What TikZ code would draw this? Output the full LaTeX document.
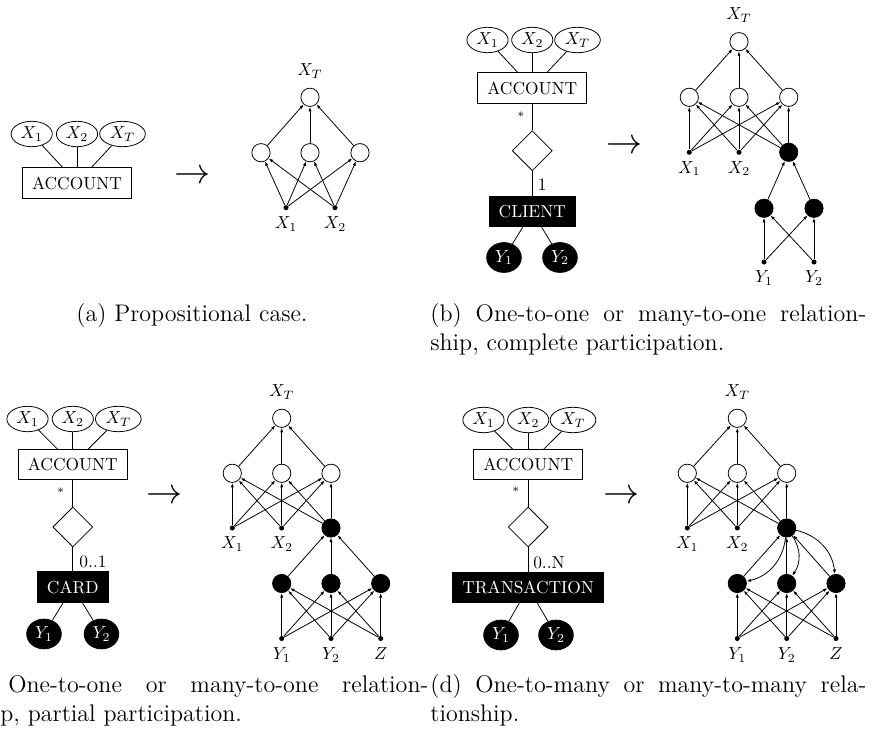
\documentclass[tikz,border=0pt]{standalone}
\usetikzlibrary{shapes.geometric,arrows.meta}
\begin{document}
\begin{tikzpicture}[x=0.575pt,y=-0.575pt,line width=0.45pt,
  attr/.style={draw,ellipse,inner xsep=2pt,inner ysep=1pt},
  battr/.style={draw,fill=black,text=white,ellipse,inner sep=1.9pt},
  ent/.style={draw,rectangle,inner xsep=5.5pt,inner ysep=5pt},
  bent/.style={ent,fill=black,text=white},
  rel/.style={draw,diamond,minimum size=23pt,inner sep=0pt},
  wnode/.style={draw,circle,minimum size=10.5pt,inner sep=0pt},
  bnode/.style={draw,circle,fill=black,minimum size=10.5pt,inner sep=0pt},
  obs/.style={circle,fill=black,minimum size=2.9pt,inner sep=0pt},
  arc/.style={-{Latex[length=2.6pt,width=1.8pt]}},
  toplab/.style={label={[label distance=2pt]above:$X_T$}},
  bigarrow/.style={inner sep=0pt},
  captext/.style={anchor=base west,inner sep=0pt,font=\fontsize{13.8pt}{16.7pt}\selectfont},
]
\useasboundingbox (0,0) rectangle (876,731);

% ---------------- (a) propositional case ----------------
\node[attr] (a-x1) at (31.7,134) {$X_1$};
\node[attr] (a-x2) at (77,134) {$X_2$};
\node[attr] (a-xt) at (122.5,134) {$X_T$};
\node[ent] (a-acc) at (77,183) {ACCOUNT};
\foreach \n in {a-x1,a-x2,a-xt} \draw (\n) -- (a-acc);
\node[bigarrow] (a-arr) at (193,177) {\huge$\rightarrow$};

\node[wnode,toplab] (a-t) at (310,97.3) {};
\node[wnode] (a-h1) at (261,152.7) {};
\node[wnode] (a-h2) at (310,152.7) {};
\node[wnode] (a-h3) at (360,152.7) {};
\node[obs,label=below:$X_1$] (a-o1) at (286,207.7) {};
\node[obs,label=below:$X_2$] (a-o2) at (335,207.7) {};
\foreach \s in {a-o1,a-o2} \foreach \t in {a-h1,a-h2,a-h3} \draw[arc] (\s) -- (\t);
\foreach \s in {a-h1,a-h2,a-h3} \draw[arc] (\s) -- (a-t);

\node[captext,anchor=base] (a-cap) at (192,322) {(a) Propositional case.};

% ---------------- (b) complete participation ----------------
\node[attr] (b-x1) at (487.5,40) {$X_1$};
\node[attr] (b-x2) at (532.3,40) {$X_2$};
\node[attr] (b-xt) at (577.5,40) {$X_T$};
\node[ent] (b-acc) at (532.3,88) {ACCOUNT};
\foreach \n in {b-x1,b-x2,b-xt} \draw (\n) -- (b-acc);
\node[rel] (b-rel) at (532.3,150.7) {};
\node[bent] (b-ent) at (532.3,211.7) {CLIENT};
\node[battr] (b-y1) at (504,257.5) {$Y_1$};
\node[battr] (b-y2) at (560,257.5) {$Y_2$};
\draw (b-acc) -- (b-rel);
\draw (b-rel) -- (b-ent);
\draw (b-ent) -- (b-y1);
\draw (b-ent) -- (b-y2);
\node (b-m1) at (521,115) {\scriptsize$*$};
\node (b-m2) at (542.3,185) {1};
\node[bigarrow] (b-arr) at (625,146.7) {\huge$\rightarrow$};

\node[wnode,toplab] (b-t) at (739,41.7) {};
\node[wnode] (b-h1) at (689.3,97.3) {};
\node[wnode] (b-h2) at (739,97.3) {};
\node[wnode] (b-h3) at (788.7,97.3) {};
\node[obs,label=below:$X_1$] (b-o1) at (689.3,152.3) {};
\node[obs,label=below:$X_2$] (b-o2) at (739,152.3) {};
\node[bnode] (b-c) at (788.7,152.3) {};
\node[bnode] (b-b1) at (764,208.3) {};
\node[bnode] (b-b2) at (814,208.3) {};
\node[obs,label=below:$Y_1$] (b-q1) at (764,262) {};
\node[obs,label=below:$Y_2$] (b-q2) at (814,262) {};
\foreach \s in {b-o1,b-o2,b-c} \foreach \t in {b-h1,b-h2,b-h3} \draw[arc] (\s) -- (\t);
\foreach \s in {b-h1,b-h2,b-h3} \draw[arc] (\s) -- (b-t);
\foreach \s in {b-b1,b-b2} \draw[arc] (\s) -- (b-c);
\foreach \s in {b-q1,b-q2} \foreach \t in {b-b1,b-b2} \draw[arc] (\s) -- (\t);

\node[captext] (b-cap1) at (430,322) {\makebox[250.7pt][s]{(b) One-to-one or many-to-one relation-}};
\node[captext] (b-cap2) at (430,351) {ship, complete participation.};

% ---------------- (c) partial participation ----------------
\node[attr] (c-x1) at (27.5,419) {$X_1$};
\node[attr] (c-x2) at (72.8,419) {$X_2$};
\node[attr] (c-xt) at (118.3,419) {$X_T$};
\node[ent] (c-acc) at (72.8,464.5) {ACCOUNT};
\foreach \n in {c-x1,c-x2,c-xt} \draw (\n) -- (c-acc);
\node[rel] (c-rel) at (72.8,527) {};
\node[bent] (c-ent) at (72.8,587) {CARD};
\node[battr] (c-y1) at (44,634) {$Y_1$};
\node[battr] (c-y2) at (101.5,634) {$Y_2$};
\draw (c-acc) -- (c-rel);
\draw (c-rel) -- (c-ent);
\draw (c-ent) -- (c-y1);
\draw (c-ent) -- (c-y2);
\node (c-m1) at (60.7,491) {\scriptsize$*$};
\node (c-m2) at (93,562) {0..1};
\node[bigarrow] (c-arr) at (165,497) {\huge$\rightarrow$};

\node[wnode,toplab] (c-t) at (281.7,418.3) {};
\node[wnode] (c-h1) at (232.3,473.3) {};
\node[wnode] (c-h2) at (281.7,473.3) {};
\node[wnode] (c-h3) at (331,473.3) {};
\node[obs,label=below:$X_1$] (c-o1) at (232.3,528) {};
\node[obs,label=below:$X_2$] (c-o2) at (281.7,528) {};
\node[bnode] (c-c) at (331,528) {};
\node[bnode] (c-b1) at (281.7,583.5) {};
\node[bnode] (c-b2) at (331,583.5) {};
\node[bnode] (c-b3) at (380.7,583.5) {};
\node[obs,label=below:$Y_1$] (c-q1) at (281.7,638.5) {};
\node[obs,label=below:$Y_2$] (c-q2) at (331,638.5) {};
\node[obs,label=below:$Z$] (c-q3) at (380.7,638.5) {};
\foreach \s in {c-o1,c-o2,c-c} \foreach \t in {c-h1,c-h2,c-h3} \draw[arc] (\s) -- (\t);
\foreach \s in {c-h1,c-h2,c-h3} \draw[arc] (\s) -- (c-t);
\foreach \s in {c-b1,c-b2,c-b3} \draw[arc] (\s) -- (c-c);
\foreach \s in {c-q1,c-q2,c-q3} \foreach \t in {c-b1,c-b2,c-b3} \draw[arc] (\s) -- (\t);

\node[captext] (c-cap1) at (8,693) {\makebox[241.5pt][s]{One-to-one or many-to-one relation-}};
\node[captext] (c-cap2) at (0,722) {p, partial participation.};

% ---------------- (d) one-to-many / many-to-many ----------------
\node[attr] (d-x1) at (483.5,420) {$X_1$};
\node[attr] (d-x2) at (528.2,420) {$X_2$};
\node[attr] (d-xt) at (573,420) {$X_T$};
\node[ent] (d-acc) at (528.2,464.7) {ACCOUNT};
\foreach \n in {d-x1,d-x2,d-xt} \draw (\n) -- (d-acc);
\node[rel] (d-rel) at (528.2,527) {};
\node[bent] (d-ent) at (528.2,587.5) {TRANSACTION};
\node[battr] (d-y1) at (501,635) {$Y_1$};
\node[battr] (d-y2) at (556,635) {$Y_2$};
\draw (d-acc) -- (d-rel);
\draw (d-rel) -- (d-ent);
\draw (d-ent) -- (d-y1);
\draw (d-ent) -- (d-y2);
\node (d-m1) at (516,490) {\scriptsize$*$};
\node (d-m2) at (549,563) {0..N};
\node[bigarrow] (d-arr) at (622,497) {\huge$\rightarrow$};

\node[wnode,toplab] (d-t) at (737.3,418.3) {};
\node[wnode] (d-h1) at (687.3,473.3) {};
\node[wnode] (d-h2) at (737.3,473.3) {};
\node[wnode] (d-h3) at (786.7,473.3) {};
\node[obs,label=below:$X_1$] (d-o1) at (687.3,528) {};
\node[obs,label=below:$X_2$] (d-o2) at (737.3,528) {};
\node[bnode] (d-c) at (786.7,528) {};
\node[bnode] (d-b1) at (737.3,583.5) {};
\node[bnode] (d-b2) at (786.7,583.5) {};
\node[bnode] (d-b3) at (836,583.5) {};
\node[obs,label=below:$Y_1$] (d-q1) at (737.3,638.5) {};
\node[obs,label=below:$Y_2$] (d-q2) at (786.7,638.5) {};
\node[obs,label=below:$Z$] (d-q3) at (836,638.5) {};
\foreach \s in {d-o1,d-o2,d-c} \foreach \t in {d-h1,d-h2,d-h3} \draw[arc] (\s) -- (\t);
\foreach \s in {d-h1,d-h2,d-h3} \draw[arc] (\s) -- (d-t);
\foreach \s in {d-b1,d-b2,d-b3} \draw[arc] (\s) -- (d-c);
\foreach \t in {d-b1,d-b2,d-b3} \draw[arc] (d-c) to[bend left=35] (\t);
\foreach \s in {d-q1,d-q2,d-q3} \foreach \t in {d-b1,d-b2,d-b3} \draw[arc] (\s) -- (\t);

\node[captext] (d-cap1) at (430,693) {\makebox[250.7pt][s]{(d) One-to-many or many-to-many rela-}};
\node[captext] (d-cap2) at (430,722) {tionship.};
\end{tikzpicture}
\end{document}
